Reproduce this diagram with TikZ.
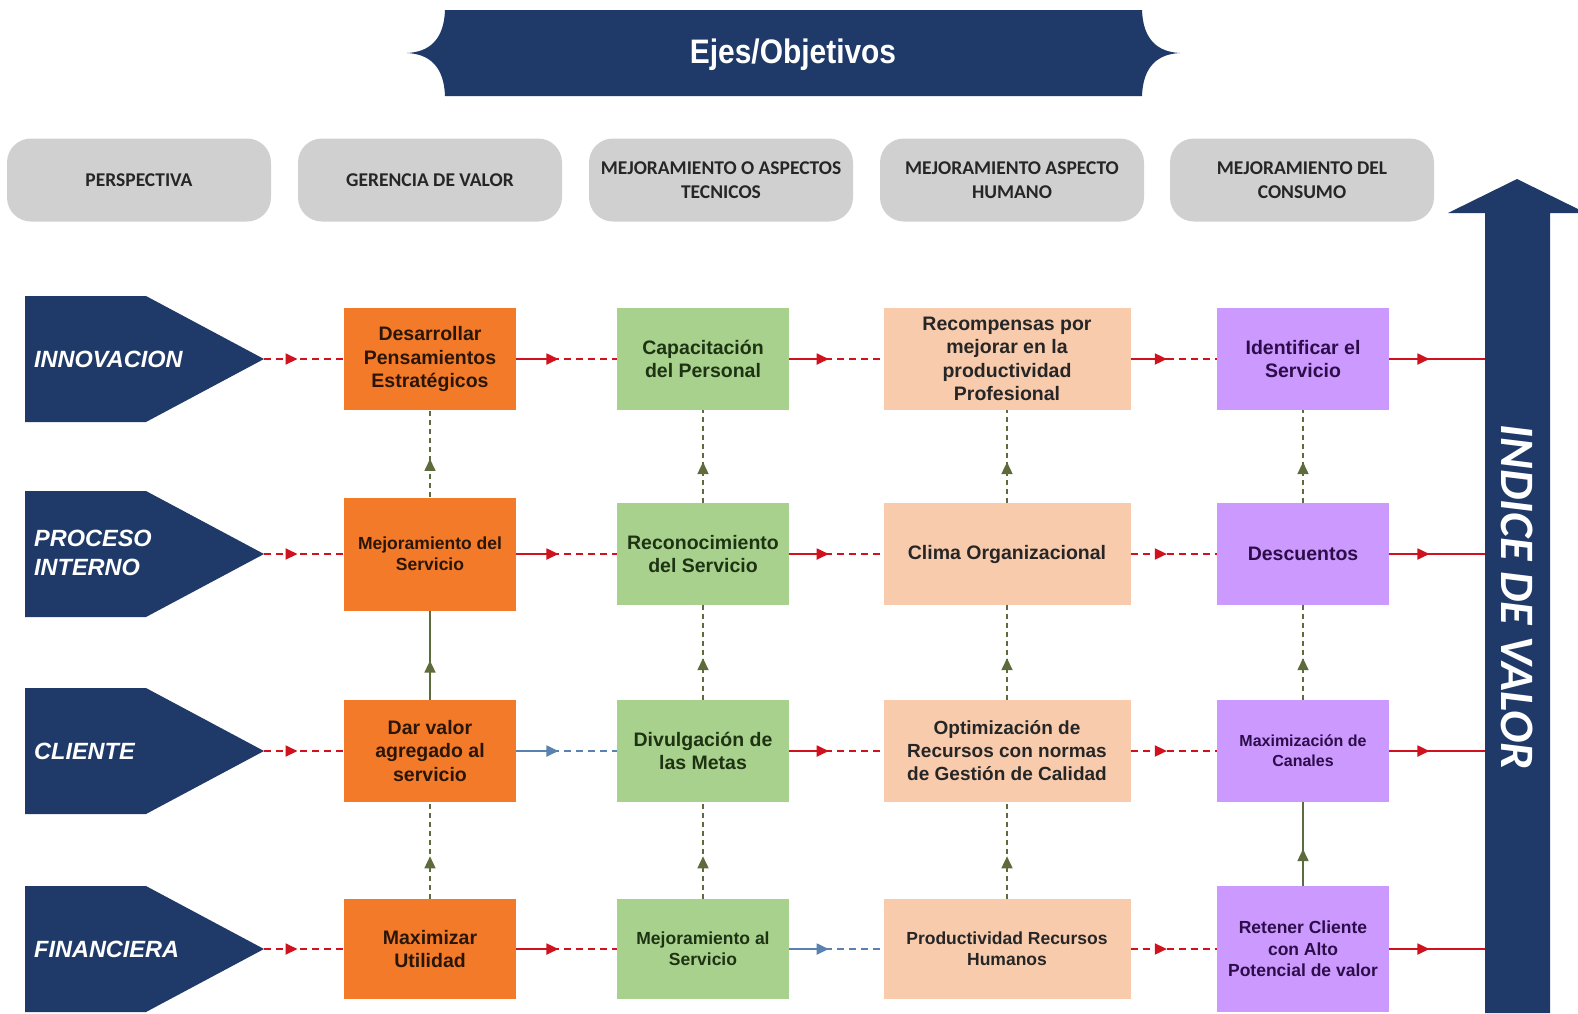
\documentclass[tikz,border=0pt]{standalone}
\usepackage{fontspec}
\setmainfont{Liberation Sans}
\newfontfamily\hdrfont{Carlito}
\usetikzlibrary{arrows.meta,decorations.markings}

\definecolor{navy}{HTML}{1F3A68}
\definecolor{boxorange}{HTML}{F27A28}
\definecolor{boxgreen}{HTML}{A9D18E}
\definecolor{boxpeach}{HTML}{F8CBAD}
\definecolor{boxlilac}{HTML}{CC99FF}
\definecolor{pillgray}{HTML}{D0D0D0}
\definecolor{lnred}{HTML}{D0121E}
\definecolor{lnblue}{HTML}{5A82B0}
\definecolor{lnolive}{HTML}{5E6B3C}
\definecolor{txorange}{HTML}{2A1608}
\definecolor{txgreen}{HTML}{1D3312}
\definecolor{txpeach}{HTML}{262626}
\definecolor{txlilac}{HTML}{2C0D4A}

\newcommand\bigtxt{\fontsize{19.5}{23.4}\selectfont\bfseries}
\newcommand\midtxt{\fontsize{17.5}{21.3}\selectfont\bfseries}
\newcommand\smalltxt{\fontsize{16}{20}\selectfont\bfseries}

\begin{document}
\begin{tikzpicture}[x=1pt,y=-1pt,
  card/.style={rectangle, inner sep=2pt, minimum width=172, minimum height=102,
    align=center, font=\bigtxt},
  ocard/.style={card, fill=boxorange, text=txorange},
  gcard/.style={card, fill=boxgreen, text=txgreen},
  pcard/.style={card, fill=boxpeach, text=txpeach, minimum width=247},
  lcard/.style={card, fill=boxlilac, text=txlilac},
  pill/.style={rectangle, rounded corners=24, fill=pillgray, minimum width=264,
    minimum height=83, align=center, text=black!85,
    font=\hdrfont\fontsize{19.5}{23.5}\selectfont\bfseries},
  chevtxt/.style={anchor=west, inner sep=0pt, text=white, align=left,
    font=\fontsize{23.5}{28.4}\selectfont\bfseries\itshape},
  midtip/.style={decoration={markings, mark=at position #1 with
    {\arrow{Triangle[length=12pt,width=11pt]}}}, postaction={decorate}},
  halftip/.style={decoration={markings, mark=at position #1 with
    {\draw[solid] (0pt,0pt) -- ({-#1*\pgfdecoratedpathlength},0pt);
     \arrow{Triangle[length=12pt,width=11pt]}}}, postaction={decorate}},
  lnk/.style={color=#1, line width=1.8pt, dash pattern=on 7pt off 5pt, midtip=0.42},
  lnkS/.style={color=#1, line width=1.8pt, dash pattern=on 7pt off 5pt, halftip=0.42},
  lnkF/.style={color=#1, line width=1.8pt, midtip=0.42},
  vlnk/.style={color=lnolive, line width=1.6pt, dash pattern=on 5pt off 4pt, midtip=0.44},
  vlnkF/.style={color=lnolive, line width=1.6pt, midtip=0.44},
]
\useasboundingbox (0,0) rectangle (1578,1013);
\clip (0,0) rectangle (1578,1013);
\fill[white] (0,0) rectangle (1578,1013);

% title banner with concave ends
\fill[navy] (445,10) -- (1142,10)
  .. controls (1143,40) and (1158,52) .. (1180,53)
  .. controls (1158,54) and (1143,66) .. (1142,96)
  -- (445,96)
  .. controls (444,66) and (429,54) .. (407,53)
  .. controls (429,52) and (444,40) .. (445,10) -- cycle;
\node[text=white, font=\fontsize{34}{38}\selectfont\bfseries] (title) at (793,55)
  {\scalebox{0.88}[1]{Ejes/Objetivos}};

% column headers
\node[pill] (h1) at (139,180) {PERSPECTIVA};
\node[pill] (h2) at (430,180) {GERENCIA DE VALOR};
\node[pill] (h3) at (721,180) {MEJORAMIENTO O ASPECTOS\\TECNICOS};
\node[pill] (h4) at (1012,180) {MEJORAMIENTO ASPECTO\\HUMANO};
\node[pill] (h5) at (1302,180) {MEJORAMIENTO DEL\\CONSUMO};

% value index arrow
\fill[navy] (1485,1013) -- (1485,213) -- (1448,213) -- (1517,179) -- (1586,213)
  -- (1550,213) -- (1550,1013) -- cycle;
\coordinate (shaft) at (1485,600);
\node[rotate=-90, text=white, font=\hdrfont\fontsize{48}{52}\selectfont\bfseries\itshape]
  (idx) at (1517,597) {INDICE DE VALOR};

% perspective chevrons
\foreach \yy/\nm in {359/k1, 554/k2, 751/k3, 949/k4}{
  \fill[navy] (25,\yy-63) -- (146,\yy-63) -- (264,\yy) -- (146,\yy+63) -- (25,\yy+63) -- cycle;
  \coordinate (\nm) at (264,\yy);
}
\node[chevtxt] (t1) at (34,359) {INNOVACION};
\node[chevtxt] (t2) at (34,553) {PROCESO\\INTERNO};
\node[chevtxt] (t3) at (34,751) {CLIENTE};
\node[chevtxt] (t4) at (34,949) {FINANCIERA};

% value management column
\node[ocard] (o1) at (430,359) {Desarrollar\\Pensamientos\\Estratégicos};
\node[ocard, minimum height=113, font=\midtxt] (o2) at (430,554) {Mejoramiento del\\Servicio};
\node[ocard] (o3) at (430,751) {Dar valor\\agregado al\\servicio};
\node[ocard, minimum height=100] (o4) at (430,949) {Maximizar\\Utilidad};

% technical column
\node[gcard] (g1) at (703,359) {Capacitación\\del Personal};
\node[gcard] (g2) at (703,554) {Reconocimiento\\del Servicio};
\node[gcard] (g3) at (703,751) {Divulgación de\\las Metas};
\node[gcard, minimum height=100, font=\midtxt] (g4) at (703,949) {Mejoramiento al\\Servicio};

% human column
\node[pcard] (p1) at (1007,359) {Recompensas por\\mejorar en la\\productividad\\Profesional};
\node[pcard] (p2) at (1007,554) {Clima Organizacional};
\node[pcard, font=\fontsize{19}{23}\selectfont\bfseries] (p3) at (1007,751)
  {Optimización de\\Recursos con normas\\de Gestión de Calidad};
\node[pcard, minimum height=100, font=\midtxt] (p4) at (1007,949) {Productividad Recursos\\Humanos};

% consumption column
\node[lcard] (u1) at (1303,359) {Identificar el\\Servicio};
\node[lcard] (u2) at (1303,554) {Descuentos};
\node[lcard, font=\smalltxt] (u3) at (1303,751) {Maximización de\\Canales};
\node[lcard, minimum height=126, font=\midtxt] (u4) at (1303,949) {Retener Cliente\\con Alto\\Potencial de valor};

% horizontal flows
\draw[lnk=lnred]  (k1) -- (o1);
\draw[lnkS=lnred] (o1) -- (g1);
\draw[lnkS=lnred] (g1) -- (p1);
\draw[lnkS=lnred] (p1) -- (u1);
\draw[lnkF=lnred] (u1) -- (u1 -| shaft);

\draw[lnk=lnred]  (k2) -- (o2);
\draw[lnkS=lnred] (o2) -- (g2);
\draw[lnkS=lnred] (g2) -- (p2);
\draw[lnk=lnred]  (p2) -- (u2);
\draw[lnkF=lnred] (u2) -- (u2 -| shaft);

\draw[lnk=lnred]   (k3) -- (o3);
\draw[lnkS=lnblue] (o3) -- (g3);
\draw[lnkS=lnred]  (g3) -- (p3);
\draw[lnk=lnred]   (p3) -- (u3);
\draw[lnkF=lnred]  (u3) -- (u3 -| shaft);

\draw[lnk=lnred]   (k4) -- (o4);
\draw[lnkS=lnred]  (o4) -- (g4);
\draw[lnkS=lnblue] (g4) -- (p4);
\draw[lnk=lnred]   (p4) -- (u4);
\draw[lnkF=lnred]  (u4) -- (u4 -| shaft);

% vertical flows
\draw[vlnk]  (o2) -- (o1);
\draw[vlnkF] (o3) -- (o2);
\draw[vlnk]  (o4) -- (o3);
\draw[vlnk]  (g2) -- (g1);
\draw[vlnk]  (g3) -- (g2);
\draw[vlnk]  (g4) -- (g3);
\draw[vlnk]  (p2) -- (p1);
\draw[vlnk]  (p3) -- (p2);
\draw[vlnk]  (p4) -- (p3);
\draw[vlnk]  (u2) -- (u1);
\draw[vlnk]  (u3) -- (u2);
\draw[vlnkF] (u4) -- (u3);
\end{tikzpicture}
\end{document}
